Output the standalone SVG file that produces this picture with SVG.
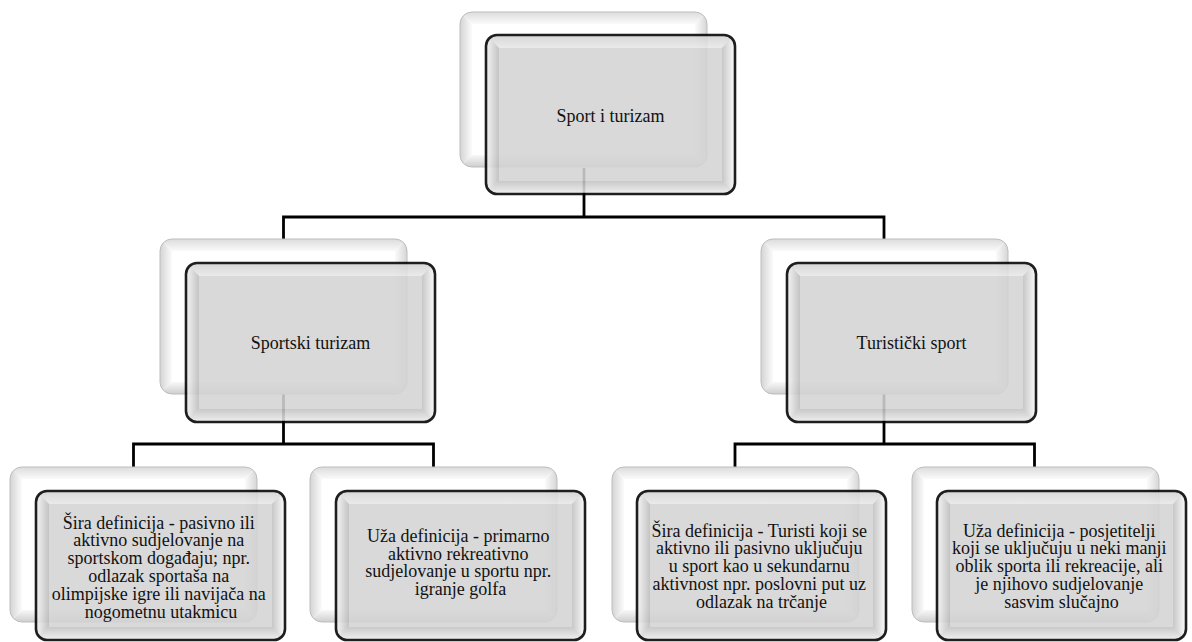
<svg xmlns="http://www.w3.org/2000/svg" xmlns:xlink="http://www.w3.org/1999/xlink" width="1192" height="642" viewBox="0 0 1192 642">
<style>
.lbl{font-family:"Liberation Serif","Times New Roman",serif;font-size:18px;fill:#111;text-anchor:middle}
.conn{fill:none;stroke:#000;stroke-width:2.8;stroke-linejoin:miter}
</style>
<defs>
<linearGradient id="fL" x1="0" y1="0" x2="1" y2="0"><stop offset="0" stop-color="#f4f4f4"/><stop offset="1" stop-color="#bcbcbc"/></linearGradient>
<linearGradient id="fR" x1="0" y1="0" x2="1" y2="0"><stop offset="0" stop-color="#c0c0c0"/><stop offset="1" stop-color="#fcfcfc"/></linearGradient>
<linearGradient id="fT" x1="0" y1="0" x2="0" y2="1"><stop offset="0" stop-color="#d2d2d2"/><stop offset="1" stop-color="#e8e8e8"/></linearGradient>
<linearGradient id="fB" x1="0" y1="0" x2="0" y2="1"><stop offset="0" stop-color="#c2c2c2"/><stop offset="1" stop-color="#eeeeee"/></linearGradient>
<linearGradient id="bL" x1="0" y1="0" x2="1" y2="0"><stop offset="0" stop-color="#d4d4d4"/><stop offset="1" stop-color="#fbfbfb"/></linearGradient>
<linearGradient id="bR" x1="0" y1="0" x2="1" y2="0"><stop offset="0" stop-color="#fbfbfb"/><stop offset="1" stop-color="#d6d6d6"/></linearGradient>
<linearGradient id="bT" x1="0" y1="0" x2="0" y2="1"><stop offset="0" stop-color="#dcdcdc"/><stop offset="1" stop-color="#fafafa"/></linearGradient>
<linearGradient id="bB" x1="0" y1="0" x2="0" y2="1"><stop offset="0" stop-color="#f8f8f8"/><stop offset="1" stop-color="#cecece"/></linearGradient>
<clipPath id="cF"><rect x="0" y="0" width="249" height="159" rx="11"/></clipPath>
<clipPath id="cFs"><rect x="0" y="0" width="249" height="149" rx="11"/></clipPath>
<clipPath id="cB"><rect x="0" y="0" width="247" height="155" rx="12"/></clipPath>
<g id="back">
<g clip-path="url(#cB)">
<rect x="0" y="0" width="247" height="155" fill="#fff"/>
<polygon points="0,0 247,0 235,12 12,12" fill="url(#bT)"/>
<polygon points="0,0 12,12 12,143 0,155" fill="url(#bL)"/>
<polygon points="247,0 247,155 235,143 235,12" fill="url(#bR)"/>
<polygon points="0,155 12,143 235,143 247,155" fill="url(#bB)"/>
</g>
<rect x="0" y="0" width="247" height="155" rx="12" fill="none" stroke="#bdbdbd" stroke-width="1"/>
</g>
<g id="front" opacity="0.88">
<g clip-path="url(#cF)">
<rect x="0" y="0" width="249" height="159" fill="#d4d4d4"/>
<polygon points="0,0 249,0 236,13 13,13" fill="url(#fT)"/>
<polygon points="0,0 13,13 13,146 0,159" fill="url(#fL)"/>
<polygon points="249,0 249,159 236,146 236,13" fill="url(#fR)"/>
<polygon points="0,159 13,146 236,146 249,159" fill="url(#fB)"/>
</g>
<rect x="0" y="0" width="249" height="159" rx="11" fill="none" stroke="#000" stroke-width="2.6"/>
</g>
<g id="frontS" opacity="0.88">
<g clip-path="url(#cFs)">
<rect x="0" y="0" width="249" height="149" fill="#d4d4d4"/>
<polygon points="0,0 249,0 236,13 13,13" fill="url(#fT)"/>
<polygon points="0,0 13,13 13,136 0,149" fill="url(#fL)"/>
<polygon points="249,0 249,149 236,136 236,13" fill="url(#fR)"/>
<polygon points="0,149 13,136 236,136 249,149" fill="url(#fB)"/>
</g>
<rect x="0" y="0" width="249" height="149" rx="11" fill="none" stroke="#000" stroke-width="2.6"/>
</g>
</defs>
<rect width="1192" height="642" fill="#fff"/>
<g id="connectors">
<path class="conn" d="M584 168 V217"/>
<path class="conn" d="M283.5 239 V217 H884 V239"/>
<path class="conn" d="M283.5 394 V444"/>
<path class="conn" d="M133.5 467 V444 H433.5 V467"/>
<path class="conn" d="M884 394 V444"/>
<path class="conn" d="M735 467 V444 H1034.5 V467"/>
</g>
<g id="node-root">
<use href="#back" x="460" y="12"/>
<use href="#front" x="486" y="35"/>
<text class="lbl" x="610.5" y="122">Sport i turizam</text>
</g>
<g id="node-sportski-turizam">
<use href="#back" x="160" y="239"/>
<use href="#front" x="186" y="263"/>
<text class="lbl" x="310.5" y="349">Sportski turizam</text>
</g>
<g id="node-turisticki-sport">
<use href="#back" x="761" y="239"/>
<use href="#front" x="787" y="263"/>
<text class="lbl" x="911.5" y="349">Turistički sport</text>
</g>
<g id="node-st-sira">
<use href="#back" x="10" y="467"/>
<use href="#frontS" x="36" y="491"/>
<text class="lbl" x="161" y="528.5">
<tspan x="161">Šira definicija - pasivno ili</tspan>
<tspan x="161" dy="17.8">aktivno sudjelovanje na</tspan>
<tspan x="161" dy="17.8">sportskom događaju; npr.</tspan>
<tspan x="161" dy="17.8">odlazak sportaša na</tspan>
<tspan x="161" dy="17.8">olimpijske igre ili navijača na</tspan>
<tspan x="161" dy="17.8">nogometnu utakmicu</tspan>
</text>
</g>
<g id="node-st-uza">
<use href="#back" x="310" y="467"/>
<use href="#frontS" x="336" y="491"/>
<text class="lbl" x="460.5" y="542">
<tspan x="460.5">Uža definicija - primarno</tspan>
<tspan x="460.5" dy="17.6">aktivno rekreativno</tspan>
<tspan x="460.5" dy="17.6">sudjelovanje u sportu npr.</tspan>
<tspan x="460.5" dy="17.6">igranje golfa</tspan>
</text>
</g>
<g id="node-ts-sira">
<use href="#back" x="612" y="467"/>
<use href="#frontS" x="637" y="491"/>
<text class="lbl" x="761.5" y="536.5">
<tspan x="761.5">Šira definicija - Turisti koji se</tspan>
<tspan x="761.5" dy="17.8">aktivno ili pasivno uključuju</tspan>
<tspan x="761.5" dy="17.8">u sport kao u sekundarnu</tspan>
<tspan x="761.5" dy="17.8">aktivnost npr. poslovni put uz</tspan>
<tspan x="761.5" dy="17.8">odlazak na trčanje</tspan>
</text>
</g>
<g id="node-ts-uza">
<use href="#back" x="912" y="467"/>
<use href="#frontS" x="937" y="491"/>
<text class="lbl" x="1061.5" y="536.5">
<tspan x="1061.5">Uža definicija - posjetitelji</tspan>
<tspan x="1061.5" dy="17.8">koji se uključuju u neki manji</tspan>
<tspan x="1061.5" dy="17.8">oblik sporta ili rekreacije, ali</tspan>
<tspan x="1061.5" dy="17.8">je njihovo sudjelovanje</tspan>
<tspan x="1061.5" dy="17.8">sasvim slučajno</tspan>
</text>
</g>
</svg>
